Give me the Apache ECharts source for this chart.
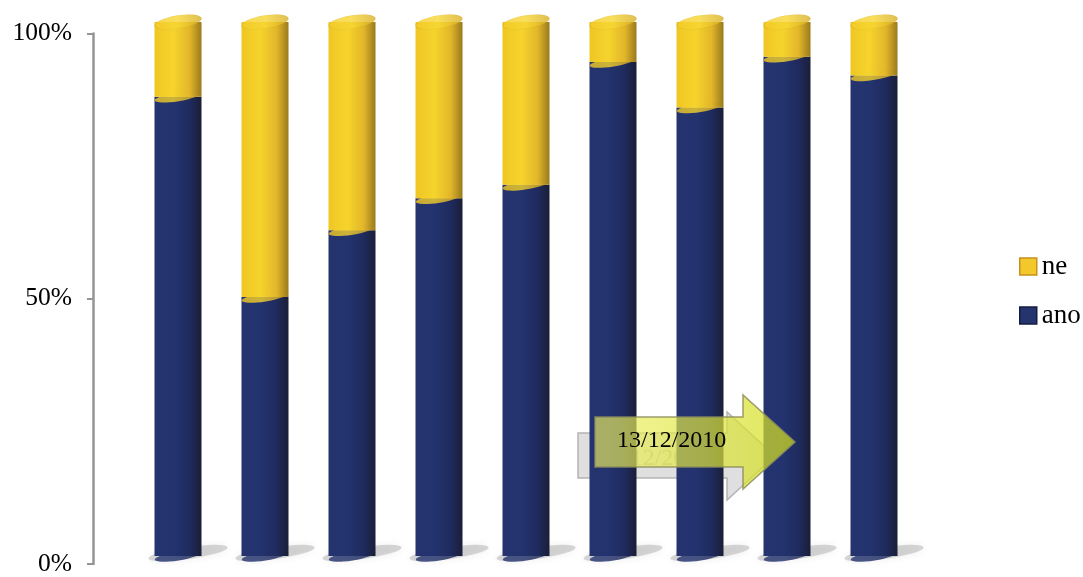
<!DOCTYPE html>
<html>
<head>
<meta charset="utf-8">
<script src="https://cdn.jsdelivr.net/npm/echarts@6/dist/echarts.min.js"></script>
<style>html,body{margin:0;padding:0;background:#fff}#c{width:1083px;height:577px}</style>
</head>
<body>
<div id="c"></div>
<script>
const categories = ['1', '2', '3', '4', '5', '6', '7', '8', '9'];
const anoValues = [86, 48.5, 61, 67, 69.5, 92.5, 84, 93.5, 90];
const neValues = [14, 51.5, 39, 33, 30.5, 7.5, 16, 6.5, 10];
const totalValues = [100, 100, 100, 100, 100, 100, 100, 100, 100];
const zeroValues = [0, 0, 0, 0, 0, 0, 0, 0, 0];
const yTickLabels = ['0%', '50%', '100%'];
const annotationText = '13/12/2010';

const FONT = '"Liberation Serif", "DejaVu Serif", serif';
const navyGrad = new echarts.graphic.LinearGradient(0, 0, 1, 0, [
  {offset: 0, color: '#25346f'}, {offset: 0.4, color: '#23336f'},
  {offset: 0.75, color: '#1f2b5e'}, {offset: 1, color: '#1a1e37'}]);
const yellowGrad = new echarts.graphic.LinearGradient(0, 0, 1, 0, [
  {offset: 0, color: '#efc624'}, {offset: 0.4, color: '#f6d42c'},
  {offset: 0.75, color: '#e2b62a'}, {offset: 1, color: '#9a7a1c'}]);
const capGrad = new echarts.graphic.LinearGradient(0, 0, 1, 0, [
  {offset: 0, color: '#f2cc2a'}, {offset: 0.5, color: '#f7d633'}, {offset: 1, color: '#d8ae26'}]);

const chart = echarts.init(document.getElementById('c'), null, {renderer: 'canvas'});
chart.setOption({
  animation: false,
  backgroundColor: '#fff',
  grid: [
    {left: 93, right: 165, top: 33.5, bottom: 8.5},
    {left: 134.5, right: 165.5, top: 22, bottom: 21}
  ],
  xAxis: [
    {type: 'category', data: categories, gridIndex: 0, show: false},
    {type: 'category', data: categories, gridIndex: 1, show: false}
  ],
  yAxis: [
    {type: 'value', gridIndex: 0, min: 0, max: 100, interval: 50,
     axisLine: {show: true, lineStyle: {color: '#959595', width: 2.5}},
     axisTick: {show: true, length: 6, lineStyle: {color: '#959595', width: 2}},
     splitLine: {show: false},
     axisLabel: {margin: 21, color: '#000', fontFamily: FONT, fontSize: 25.5, padding: [3, 0, 0, 0],
       formatter: function (v) { return yTickLabels[Math.round(v / 50)]; }}},
    {type: 'value', gridIndex: 1, min: 0, max: 100, show: false}
  ],
  legend: {
    orient: 'vertical', left: 1014, top: 248, itemGap: 22,
    itemWidth: 17, itemHeight: 17, icon: 'rect',
    textStyle: {fontFamily: FONT, fontSize: 27, color: '#000', lineHeight: 27},
    data: [
      {name: 'ne', itemStyle: {color: '#f2c82a', borderColor: '#c8901e', borderWidth: 1.5}},
      {name: 'ano', itemStyle: {color: '#24346f', borderColor: '#151c40', borderWidth: 1.5}}
    ]
  },
  graphic: [
    {type: 'polygon', z: 0, silent: true,
     shape: {points: [[578,433],[727,433],[727,412],[775,456],[727,500],[727,478],[578,478]]},
     style: {fill: 'rgba(212,212,212,0.75)', stroke: '#b4b4b4', lineWidth: 1.5}},
    {type: 'text', z: 0, silent: true, left: 600, top: 447,
     style: {text: annotationText, font: '24px ' + FONT, fill: 'rgba(150,150,150,0.55)'}},
    {type: 'polygon', z: 100, silent: true,
     shape: {points: [[595,417],[743,417],[743,395],[795,442],[743,489],[743,467],[595,467]]},
     style: {fill: new echarts.graphic.LinearGradient(0, 0, 1, 0, [
        {offset: 0, color: 'rgba(238,240,100,0.66)'}, {offset: 1, color: 'rgba(210,222,30,0.72)'}]),
       stroke: 'rgba(140,140,90,0.85)', lineWidth: 1.5}},
    {type: 'text', z: 101, silent: true, left: 617, top: 429,
     style: {text: annotationText, font: '24px ' + FONT, fill: '#000'}}
  ],
  series: [
    {type: 'scatter', xAxisIndex: 1, yAxisIndex: 1, z: 1, silent: true,
     data: zeroValues, symbol: 'circle', symbolSize: [80, 12], symbolRotate: 8, symbolOffset: [10, -3],
     itemStyle: {color: 'rgba(120,120,120,0.35)', shadowBlur: 8, shadowColor: 'rgba(0,0,0,0.25)'}},
    {name: 'ano', type: 'bar', xAxisIndex: 1, yAxisIndex: 1, stack: 'all', barWidth: 47, z: 2,
     data: anoValues, itemStyle: {color: navyGrad}},
    {name: 'ne', type: 'bar', xAxisIndex: 1, yAxisIndex: 1, stack: 'all', barWidth: 47, z: 2,
     data: neValues, itemStyle: {color: yellowGrad}},
    {type: 'scatter', xAxisIndex: 1, yAxisIndex: 1, z: 3, silent: true,
     data: zeroValues, symbol: 'circle', symbolSize: [47, 9], symbolRotate: 9,
     itemStyle: {color: navyGrad}},
    {type: 'scatter', xAxisIndex: 1, yAxisIndex: 1, z: 3, silent: true,
     data: anoValues, symbol: 'circle', symbolSize: [47, 9], symbolRotate: 9,
     itemStyle: {color: yellowGrad}},
    {type: 'scatter', xAxisIndex: 1, yAxisIndex: 1, z: 3, silent: true,
     data: totalValues, symbol: 'circle', symbolSize: [47, 13], symbolRotate: 9,
     itemStyle: {color: capGrad, borderColor: 'rgba(200,160,30,0.6)', borderWidth: 0.5}}
  ]
});
</script>
</body>
</html>
